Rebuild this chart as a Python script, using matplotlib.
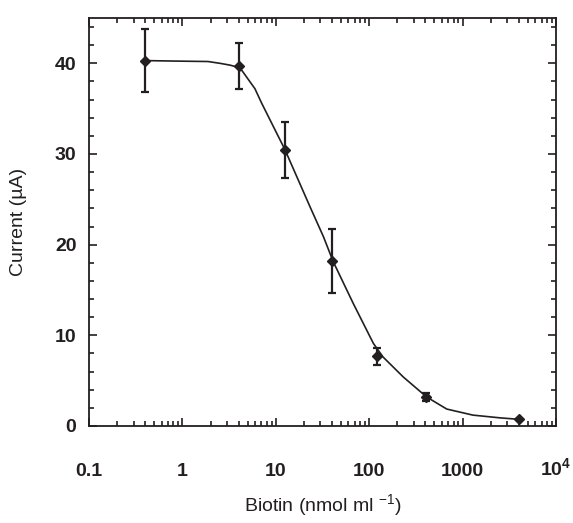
import numpy as np
import matplotlib
matplotlib.use('Agg')
import matplotlib.pyplot as plt
from matplotlib.ticker import MultipleLocator, LogLocator, FixedLocator, NullFormatter

plt.rcParams['font.family'] = ['Liberation Sans', 'DejaVu Sans']

# measured points
biotin = [0.4, 4, 12.4, 40, 120, 410, 4000]
current = [40.3, 39.7, 30.4, 18.2, 7.7, 3.2, 0.73]
err = [3.5, 2.5, 3.1, 3.55, 0.95, 0.4, 0.0]

# fitted curve
fit_x = [0.41, 0.83, 1.88, 2.53, 3.24, 4.14, 5.98, 7.06, 12.5, 23.2, 32.3, 41.3,
         67.6, 111, 141, 232, 412, 676, 1290, 2510, 4050]
fit_y = [40.3, 40.25, 40.2, 40.0, 39.8, 39.5, 37.2, 35.6, 30.5, 24.2, 20.9, 18.1,
         13.5, 9.1, 7.6, 5.4, 3.2, 1.87, 1.2, 0.9, 0.73]

xticks = [0.1, 1, 10, 100, 1000, 10000]
xlabels = ['0.1', '1', '10', '100', '1000', '10$^{\\mathregular{4}}$']

ink = '#231f20'

fig = plt.figure(figsize=(5.73, 5.23), dpi=100)
ax = fig.add_axes([89/573, 1-426/523, (556-89)/573, (426-18)/523])

ax.plot(fit_x, fit_y, color=ink, lw=1.2)
ax.errorbar(biotin, current, yerr=err, fmt='D', color=ink, ms=5,
            elinewidth=1.6, capsize=3, capthick=1.6)

ax.set_xscale('log')
ax.set_xlim(0.1, 10000)
ax.set_ylim(0, 45)
ax.xaxis.set_major_locator(FixedLocator(xticks))
ax.set_xticklabels(xlabels)
ax.xaxis.set_minor_locator(LogLocator(base=10, subs=np.arange(2, 10)))
ax.xaxis.set_minor_formatter(NullFormatter())
ax.yaxis.set_major_locator(MultipleLocator(10))
ax.yaxis.set_minor_locator(MultipleLocator(2))

ax.tick_params(which='both', direction='in', top=True, right=True, colors=ink, width=1.2)
ax.tick_params(which='major', length=6)
ax.tick_params(which='minor', length=3.5)
ax.tick_params(axis='x', which='major', pad=36)
ax.tick_params(axis='y', which='major', pad=9)
for lab in ax.get_xticklabels() + ax.get_yticklabels():
    lab.set_fontsize(14)
    lab.set_fontweight('bold')
for lab in ax.get_xticklabels():
    lab.set_verticalalignment('baseline')
for s in ax.spines.values():
    s.set_linewidth(1.3)
    s.set_color(ink)

ax.set_xlabel('Biotin (nmol ml $^{\\mathregular{-1}}$)', fontsize=14, labelpad=9, color=ink)
ax.set_ylabel('Current (\u00b5A)', fontsize=14, labelpad=20, color=ink)

fig.savefig('out.png', dpi=100)
